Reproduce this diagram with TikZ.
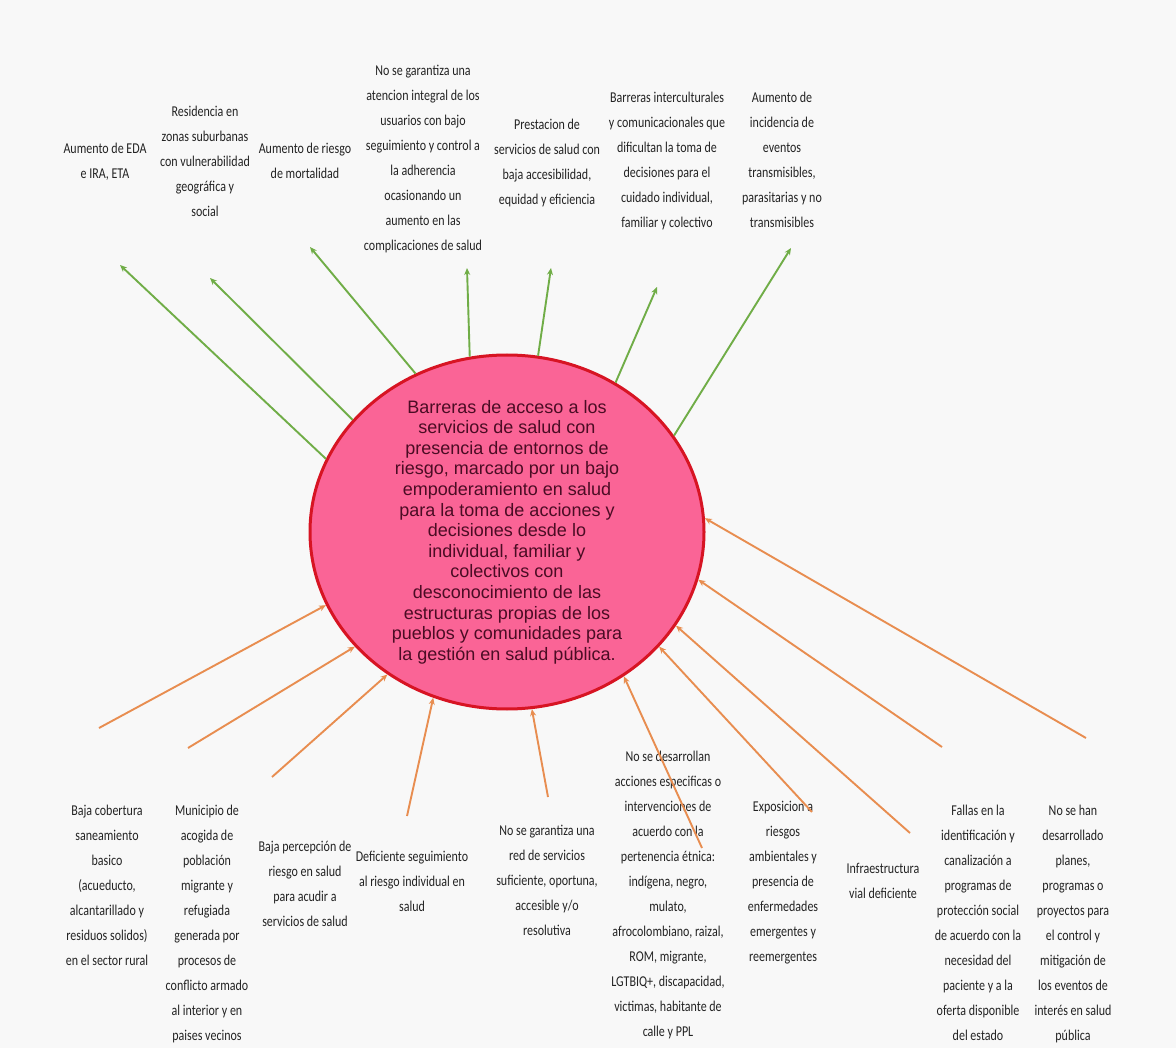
\documentclass[tikz,border=0pt]{standalone}
\usepackage{fontspec}
\setmainfont{Carlito}[FakeStretch=0.8]
\newfontfamily\ellfont{Liberation Sans}
\usetikzlibrary{shapes.geometric,arrows.meta}
\definecolor{bg}{RGB}{248,248,248}
\definecolor{pinkfill}{RGB}{250,100,150}
\definecolor{redline}{RGB}{215,20,35}
\definecolor{maroontxt}{RGB}{75,12,36}
\definecolor{grn}{RGB}{112,173,71}
\definecolor{org}{RGB}{232,141,80}
\definecolor{txt}{RGB}{35,35,35}
\begin{document}
\begin{tikzpicture}[x=1pt,y=-1pt,
  lbl/.style={font=\fontsize{15}{25}\selectfont, align=center, inner sep=0pt, anchor=north, text=txt},
  effect/.style={draw=grn, line width=1.9pt, -{Stealth[length=7pt,width=6pt]}},
  cause/.style={draw=org, line width=1.9pt, -{Stealth[length=7pt,width=6pt]}},
  core/.style={ellipse, draw=redline, line width=3pt, fill=pinkfill, minimum width=394pt, minimum height=354pt, inner sep=0pt},
  coretext/.style={font=\ellfont\fontsize{18}{20.6}\selectfont, text=maroontxt, align=center, inner sep=0pt}
]
\fill[bg] (0,0) rectangle (1176,1048);
\useasboundingbox (0,0) rectangle (1176,1048);

% top labels (effects)
\node[lbl] (t1) at (105,143) {Aumento de EDA\\e IRA, ETA};
\node[lbl] (t2) at (205,106) {Residencia en\\zonas suburbanas\\con vulnerabilidad\\geográfica y\\social};
\node[lbl] (t3) at (305,143) {Aumento de riesgo\\de mortalidad};
\node[lbl] (t4) at (423,65) {No se garantiza una\\atencion integral de los\\usuarios con bajo\\seguimiento y control a\\la adherencia\\ocasionando un\\aumento en las\\complicaciones de salud};
\node[lbl] (t5) at (547,119) {Prestacion de\\servicios de salud con\\baja accesibilidad,\\equidad y eficiencia};
\node[lbl] (t6) at (667,92) {Barreras interculturales\\y comunicacionales que\\dificultan la toma de\\decisiones para el\\cuidado individual,\\familiar y colectivo};
\node[lbl] (t7) at (782,92) {Aumento de\\incidencia de\\eventos\\transmisibles,\\parasitarias y no\\transmisibles};

% bottom labels (causes)
\node[lbl] (b1) at (107,805) {Baja cobertura\\saneamiento\\basico\\(acueducto,\\alcantarillado y\\residuos solidos)\\en el sector rural};
\node[lbl] (b2) at (207,805) {Municipio de\\acogida de\\población\\migrante y\\refugiada\\generada por\\procesos de\\conflicto armado\\al interior y en\\paises vecinos};
\node[lbl] (b3) at (305,841) {Baja percepción de\\riesgo en salud\\para acudir a\\servicios de salud};
\node[lbl] (b4) at (412,851) {Deficiente seguimiento\\al riesgo individual en\\salud};
\node[lbl] (b5) at (547,825) {No se garantiza una\\red de servicios\\suficiente, oportuna,\\accesible y/o\\resolutiva};
\node[lbl] (b6) at (668,751) {No se desarrollan\\acciones especificas o\\intervenciones de\\acuerdo con la\\pertenencia étnica:\\indígena, negro,\\mulato,\\afrocolombiano, raizal,\\ROM, migrante,\\LGTBIQ+, discapacidad,\\victimas, habitante de\\calle y PPL};
\node[lbl] (b7) at (783,801) {Exposicion a\\riesgos\\ambientales y\\presencia de\\enfermedades\\emergentes y\\reemergentes};
\node[lbl] (b8) at (883,863) {Infraestructura\\vial deficiente};
\node[lbl] (b9) at (978,805) {Fallas en la\\identificación y\\canalización a\\programas de\\protección social\\de acuerdo con la\\necesidad del\\paciente y a la\\oferta disponible\\del estado};
\node[lbl] (b10) at (1073,805) {No se han\\desarrollado\\planes,\\programas o\\proyectos para\\el control y\\mitigación de\\los eventos de\\interés en salud\\pública};

% central problem
\node[core] (c) at (507,532) {};
\node[coretext] (ct) at (507,532) {Barreras de acceso a los\\servicios de salud con\\presencia de entornos de\\riesgo, marcado por un bajo\\empoderamiento en salud\\para la toma de acciones y\\decisiones desde lo\\individual, familiar y\\colectivos con\\desconocimiento de las\\estructuras propias de los\\pueblos y comunidades para\\la gestión en salud pública.};

% arrow free ends
\coordinate (g1) at (120,265);
\coordinate (g2) at (210,278);
\coordinate (g3) at (310,247);
\coordinate (g4) at (467,268);
\coordinate (g5) at (551,268);
\coordinate (g6) at (657,287);
\coordinate (g7) at (791,248);
\coordinate (o1) at (99,728);
\coordinate (o2) at (188,748);
\coordinate (o3) at (272,777);
\coordinate (o4) at (407,816);
\coordinate (o5) at (548,797);
\coordinate (o6) at (702,848);
\coordinate (o7) at (812,812);
\coordinate (o8) at (910,833);
\coordinate (o9) at (942,747);
\coordinate (o10) at (1086,738);

% effects
\draw[effect] (c.158.2) -- (g1);
\draw[effect] (c.144.5) -- (g2);
\draw[effect] (c.120.4) -- (g3);
\draw[effect] (c.102.9) -- (g4);
\draw[effect] (c.80.1) -- (g5);
\draw[effect] (c.54.9) -- (g6);
\draw[effect] (c.30.5) -- (g7);

% causes
\draw[cause] (o1) -- (c.202.2);
\draw[cause] (o2) -- (c.217.2);
\draw[cause] (o3) -- (c.230.4);
\draw[cause] (o4) -- (c.246.2);
\draw[cause] (o5) -- (c.278.2);
\draw[cause] (o6) -- (c.309.3);
\draw[cause] (o7) -- (c.323.6);
\draw[cause] (o8) -- (c.331.8);
\draw[cause] (o9) -- (c.346.7);
\draw[cause] (o10) -- (c.4.1);
\end{tikzpicture}
\end{document}
